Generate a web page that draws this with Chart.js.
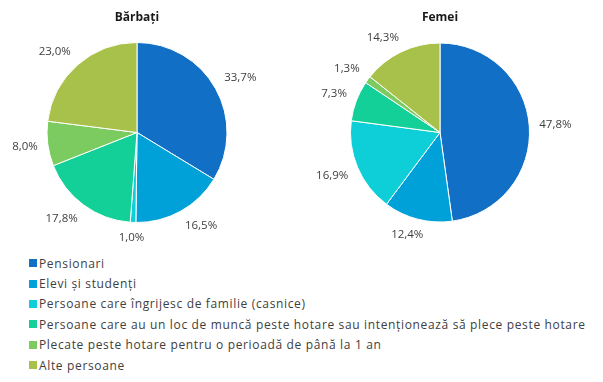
<!DOCTYPE html>
<html>
<head>
<meta charset="utf-8">
<script src="https://cdn.jsdelivr.net/npm/chart.js@4.4.1/dist/chart.umd.min.js"></script>
<style>
  html, body { margin: 0; padding: 0; background: #fff; }
  body { width: 603px; height: 382px; position: relative; overflow: hidden; font-family: "Open Sans", sans-serif; }
  .box { position: absolute; top: 0; width: 300px; height: 250px; }
  .ttl { position: absolute; top: 8px; width: 120px; text-align: center; font: bold 12px "Open Sans", sans-serif; color: #1a1a1a; }
  #legend { position: absolute; left: 29px; top: 253px; }
  .li { height: 20.4px; display: flex; align-items: center; font: 12px "Open Sans", sans-serif; letter-spacing: 0.65px; color: #404040; white-space: nowrap; }
  .sw { width: 8px; height: 8px; margin-right: 2px; flex: none; }
</style>
</head>
<body>
<div class="box" style="left:0"><canvas id="c1" width="300" height="250"></canvas></div>
<div class="box" style="left:303px"><canvas id="c2" width="300" height="250"></canvas></div>
<div class="ttl" id="t1" style="left:77px"></div>
<div class="ttl" id="t2" style="left:380px"></div>
<div id="legend"></div>
<script>
const categories = [
  "Pensionari",
  "Elevi și studenți",
  "Persoane care îngrijesc de familie (casnice)",
  "Persoane care au un loc de muncă peste hotare sau intenționează să plece peste hotare",
  "Plecate peste hotare pentru o perioadă de până la 1 an",
  "Alte persoane"
];
const titles = ["Bărbați", "Femei"];
const barbati = [33.7, 16.5, 1.0, 17.8, 8.0, 23.0];
const femei = [47.8, 12.4, 16.9, 7.3, 1.3, 14.3];
const colors = ["#1170C6", "#00A0D8", "#0ECFD8", "#12D098", "#7BCB61", "#A8C14A"];

document.getElementById('t1').textContent = titles[0];
document.getElementById('t2').textContent = titles[1];

const lg = document.getElementById('legend');
categories.forEach((c, i) => {
  const d = document.createElement('div'); d.className = 'li';
  const s = document.createElement('span'); s.className = 'sw'; s.style.background = colors[i];
  const t = document.createElement('span'); t.textContent = c;
  d.appendChild(s); d.appendChild(t); lg.appendChild(d);
});

const clamp = v => Math.max(-1, Math.min(1, v));
const outLabels = {
  id: 'outLabels',
  afterDatasetsDraw(chart) {
    const ctx = chart.ctx;
    const meta = chart.getDatasetMeta(0);
    const data = chart.data.datasets[0].data;
    ctx.save();
    ctx.font = '11.5px "Open Sans", sans-serif';
    ctx.fillStyle = '#404040';
    ctx.textAlign = 'center';
    ctx.textBaseline = 'middle';
    meta.data.forEach((arc, i) => {
      const p = arc.getProps(['x', 'y', 'startAngle', 'endAngle', 'outerRadius'], true);
      const m = (p.startAngle + p.endAngle) / 2;
      const txt = data[i].toFixed(1).replace('.', ',') + '%';
      const w = ctx.measureText(txt).width, h = 11;
      const c = Math.cos(m), s = Math.sin(m);
      const d = p.outerRadius + 10;
      const x = p.x + d * c + (w / 2) * clamp(2 * c);
      const y = p.y + d * s + (h / 2) * clamp(2 * s);
      ctx.fillText(txt, x, y);
    });
    ctx.restore();
  }
};

function makePie(id, values, pad) {
  return new Chart(document.getElementById(id), {
    type: 'pie',
    data: { labels: categories, datasets: [{ data: values, backgroundColor: colors, borderColor: '#ffffff', borderWidth: 1 }] },
    options: {
      responsive: false, animation: false,
      layout: { padding: pad },
      plugins: { legend: { display: false }, tooltip: { enabled: false }, title: { display: false } }
    },
    plugins: [outLabels]
  });
}
makePie('c1', barbati, { left: 46.5, right: 72.5, top: 42, bottom: 27 });
makePie('c2', femei, { left: 47, right: 73, top: 42.5, bottom: 27.5 });
</script>
</body>
</html>
